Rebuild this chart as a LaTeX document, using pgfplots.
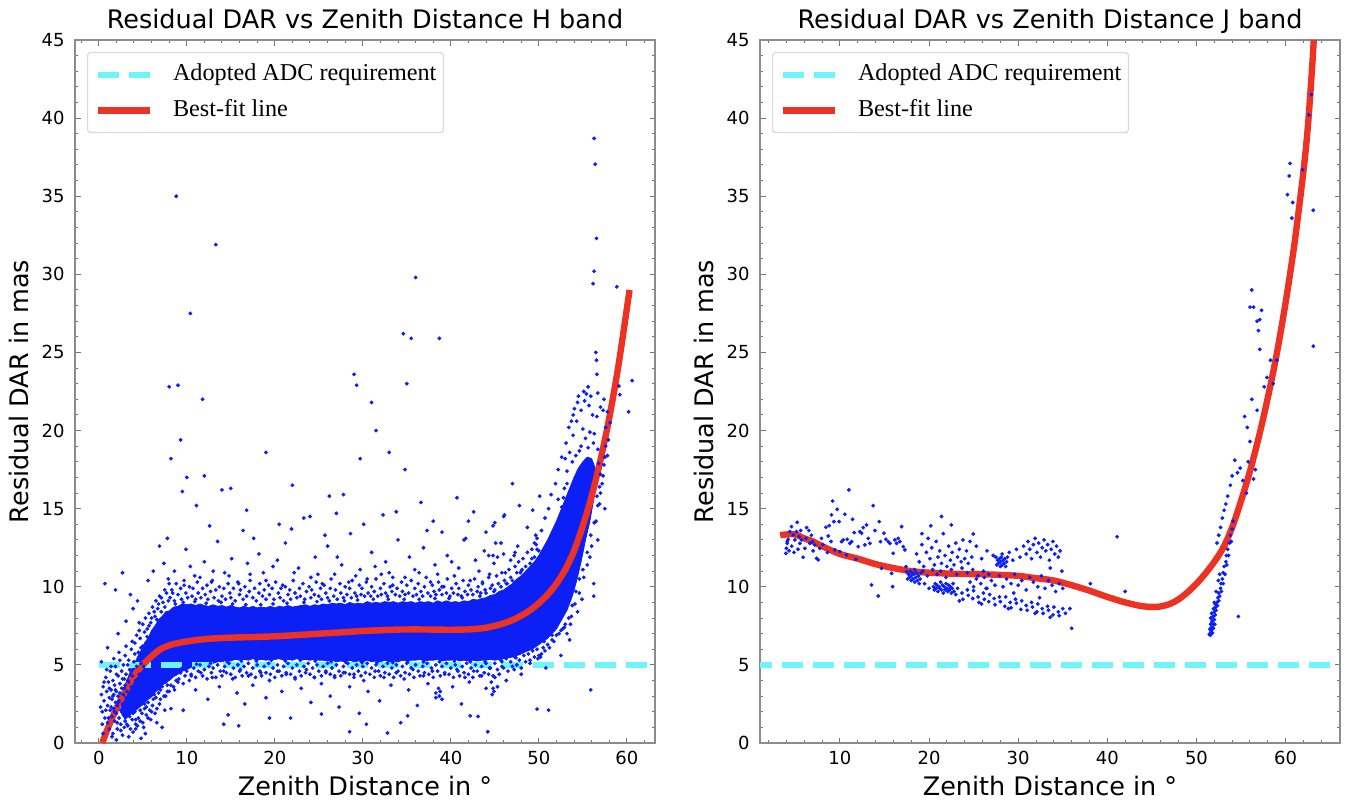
\documentclass[border=0pt]{standalone}
\usepackage{fontspec}
\setmainfont{DejaVu Sans}
\newfontfamily\legfont{Liberation Serif}
\usepackage{pgfplots}
\pgfplotsset{compat=1.18}
\definecolor{dotblue}{RGB}{12,32,246}
\definecolor{fitred}{RGB}{235,50,35}
\definecolor{adccyan}{RGB}{110,245,250}
\newcommand\lblfont{\fontsize{12.75}{15}\selectfont}
\pgfplotsset{
  panel/.style={
    scale only axis, width=290pt, height=351.5pt,
    ymin=0, ymax=45, ytick={0,5,...,45}, minor ytick={0,1,...,45},
    tick align=inside, tick pos=both, xticklabel pos=lower, yticklabel pos=left,
    major tick length=2.75pt, minor tick length=1.3pt,
    every tick/.style={black!55, line width=0.5pt},
    axis line style={black!45, line width=0.6pt},
    /pgf/number format/assume math mode=true,
    ticklabel style={font=\fontsize{9}{10}\selectfont},
    xticklabel style={anchor=base, yshift=-10.8pt, inner sep=0pt},
    yticklabel style={anchor=east, xshift=-5pt, inner sep=0pt},
    title style={at={(axis description cs:0.5,1)}, anchor=base, yshift=-0.15pt, font=\lblfont},
    xlabel style={at={(axis description cs:0.5,0)}, anchor=base, yshift=-26pt, font=\lblfont},
    ylabel style={at={(axis description cs:-0.0805,0.5)}, anchor=base, rotate=0, font=\lblfont},
    legend style={at={(axis description cs:0.0207,0.983)}, anchor=north west,
      draw=black!15, fill=white, rounded corners=1.5pt, line width=0.6pt,
      font=\legfont\fontsize{12.1}{14}\selectfont,
      nodes={inner sep=0pt, text height=9pt, text depth=3pt},
      inner xsep=3.5pt, inner ysep=5pt, row sep=6pt, column sep=10pt,
      cells={anchor=west}},
    legend image code/.code={\draw[#1] (0pt,0pt) -- (26pt,0pt);},
  },
  dots/.style={only marks, mark=*, mark size=0.75pt, color=dotblue,
    mark options={draw=none, fill=dotblue}, forget plot},
  adc/.style={adccyan, line width=3pt, dash pattern=on 10.5pt off 5pt},
  fit/.style={fitred, line width=3.2pt},
}
\begin{document}
\begin{tikzpicture}
\useasboundingbox (0,0) rectangle (679pt,404pt);
% ---------------- H band ----------------
\begin{axis}[panel, at={(37.5pt,32.5pt)}, anchor=south west,
  xmin=-2.7, xmax=63.2, xtick={0,10,...,60}, minor xtick={-2,0,...,62},
  title={Residual DAR vs Zenith Distance H band},
  xlabel={Zenith Distance in °}, ylabel={Residual DAR in mas}]
% dense core of the point cloud
\addplot[fill=dotblue, draw=dotblue, line width=0.4pt, forget plot] coordinates {
(2.5,2.0) (2.8,3.5) (3.2,4.0) (3.6,4.6) (4.0,5.0) (4.4,5.5) (4.8,5.9) (5.2,6.4) (5.6,6.7) (6.0,7.2)
(6.4,7.5) (6.8,7.9) (7.2,8.1) (7.6,8.4) (8.0,8.45) (8.5,8.7) (9.0,8.75) (9.5,8.9) (10.0,8.85) (10.5,8.9)
(11.0,8.8) (11.5,8.9) (12.0,8.8) (12.5,8.75) (13.0,8.85) (13.5,8.75) (14.0,8.8) (14.5,8.7) (15.0,8.8)
(15.5,8.7) (16.0,8.65) (16.5,8.75) (17.0,8.65) (17.5,8.75) (18.0,8.65) (18.5,8.7) (19.0,8.65) (19.5,8.75)
(20.0,8.65) (20.5,8.75) (21.0,8.7) (21.5,8.8) (22.0,8.7) (22.5,8.75) (23.0,8.8) (23.5,8.85) (24.0,8.75)
(24.5,8.85) (25.0,8.8) (25.5,8.9) (26.0,8.85) (26.5,8.95) (27.0,8.9) (27.5,8.95) (28.0,8.85) (28.5,9.0)
(29.0,8.9) (29.5,8.95) (30.0,8.9) (30.5,9.05) (31.0,8.95) (31.5,9.0) (32.0,8.95) (32.5,9.05) (33.0,9.0)
(33.5,9.05) (34.0,8.95) (34.5,9.05) (35.0,9.0) (35.5,9.05) (36.0,8.95) (36.5,9.05) (37.0,9.0) (37.5,9.05)
(38.0,8.95) (38.5,9.1) (39.0,9.0) (39.5,9.1) (40.0,9.0) (40.5,9.05) (41.0,9.0) (41.5,9.1) (42.0,9.05)
(42.5,9.2) (43.0,9.15) (43.5,9.25) (44.0,9.3) (44.5,9.45) (45.0,9.5) (45.5,9.7) (46.0,9.8) (46.5,10.0)
(47.0,10.2) (47.5,10.5) (48.0,10.7) (48.5,11.0) (49.0,11.3) (49.5,11.6) (50.0,12.0) (50.5,12.5)
(51.0,13.0) (51.5,13.6) (52.0,14.2) (52.5,14.9) (53.0,15.6) (53.5,16.3) (54.0,17.0) (54.5,17.6)
(55.0,18.0) (55.5,18.3) (56.0,18.2) (56.4,17.6) (56.5,16.8) (56.2,15.5) (55.8,14.2) (55.3,13.0)
(54.8,11.6) (54.3,10.4) (53.8,9.4) (53.2,8.5) (52.6,7.9) (52.0,7.3) (51.5,7.0) (51.0,6.7) (50.5,6.5)
(50.0,6.3) (49.5,6.1) (49.0,5.95) (48.5,5.85) (48.0,5.7) (47.5,5.6) (47.0,5.5) (46.5,5.45) (46.0,5.4)
(45.5,5.35) (45.0,5.3) (44.5,5.35) (44.0,5.3) (43.5,5.3) (43.0,5.25) (42.5,5.3) (42.0,5.25) (41.5,5.3)
(41.0,5.25) (40.5,5.35) (40.0,5.3) (39.5,5.3) (39.0,5.25) (38.5,5.35) (38.0,5.3) (37.5,5.3) (37.0,5.25)
(36.5,5.35) (36.0,5.3) (35.5,5.3) (35.0,5.25) (34.5,5.3) (34.0,5.2) (33.5,5.25) (33.0,5.2) (32.5,5.3)
(32.0,5.2) (31.5,5.25) (31.0,5.2) (30.5,5.3) (30.0,5.2) (29.5,5.25) (29.0,5.2) (28.5,5.3) (28.0,5.2)
(27.5,5.25) (27.0,5.2) (26.5,5.3) (26.0,5.25) (25.5,5.3) (25.0,5.3) (24.5,5.35) (24.0,5.3) (23.5,5.35)
(23.0,5.3) (22.5,5.4) (22.0,5.3) (21.5,5.35) (21.0,5.3) (20.5,5.4) (20.0,5.35) (19.5,5.35) (19.0,5.3)
(18.5,5.35) (18.0,5.3) (17.5,5.4) (17.0,5.3) (16.5,5.35) (16.0,5.3) (15.5,5.35) (15.0,5.25) (14.5,5.3)
(14.0,5.2) (13.5,5.2) (13.0,5.1) (12.5,5.1) (12.0,5.0) (11.5,5.0) (11.0,4.9) (10.5,4.85) (10.0,4.7)
(9.5,4.6) (9.0,4.4) (8.5,4.25) (8.0,4.0) (7.5,3.85) (7.0,3.5) (6.5,3.3) (6.0,2.95) (5.5,2.75)
(5.0,2.45) (4.5,2.25) (4.0,1.95) (3.5,1.8) (3.0,1.5)
} -- cycle;
% scattered points
\addplot[dots] coordinates {
(0.2,2.3) (0.3,3.1) (0.4,2.0) (0.5,3.6) (0.6,2.7) (0.7,1.6) (0.8,4.2) (0.9,3.3) (1.0,2.4) (1.0,1.3)
(1.1,3.9) (1.2,2.9) (1.2,0.9) (1.3,4.6) (1.3,2.1) (1.4,3.4) (1.5,1.7) (1.5,2.8) (1.6,4.0) (1.6,0.6)
(1.7,3.1) (1.7,2.2) (1.8,1.4) (1.8,3.7) (1.9,2.6) (1.9,4.9) (2.0,1.9) (2.0,3.3) (2.1,2.4) (2.1,0.9)
(2.2,4.3) (2.2,3.0) (2.3,1.6) (2.3,2.7) (2.4,3.8) (2.4,5.3) (2.5,2.1) (2.5,1.2) (2.6,3.5) (2.6,4.6)
(2.7,2.5) (2.7,0.5) (2.8,3.1) (2.8,1.8) (2.9,4.1) (2.9,2.3) (3.0,5.6) (3.0,3.7) (3.0,1.4) (3.1,2.9)
(3.1,4.4) (3.2,2.0) (3.2,3.3) (3.3,1.1) (3.3,5.0) (3.4,2.6) (3.4,3.9) (3.5,1.7) (3.5,4.7) (3.6,3.0)
(3.6,2.2) (3.7,6.0) (3.7,3.6) (3.8,1.5) (3.8,4.3) (3.9,2.7) (3.9,0.7) (4.0,5.2) (4.0,3.2) (4.1,2.0)
(4.1,6.4) (4.2,4.0) (4.2,1.2) (4.3,2.9) (4.3,4.9) (4.4,3.5) (4.4,2.4) (4.5,5.8) (4.5,1.6) (4.6,4.4)
(4.6,3.1) (4.7,6.7) (4.7,2.1) (4.8,5.1) (4.8,0.3) (4.9,3.8) (4.9,2.7) (5.0,6.2) (5.0,1.3) (5.1,4.9)
(5.2,7.1) (5.2,2.2) (5.3,5.7) (5.4,3.3) (5.4,1.8) (5.5,6.8) (5.6,2.6) (5.7,7.5) (5.8,3.0) (5.9,1.5)
(6.0,8.0) (6.1,2.4) (6.2,3.5) (6.3,8.4) (6.4,1.9) (6.5,2.9) (6.6,7.9) (6.7,3.9) (6.8,8.9) (6.9,2.5)
(7.0,3.4) (7.1,9.3) (7.2,1.0) (7.3,4.0) (7.5,9.8) (7.6,3.0) (7.8,3.7) (7.9,10.5) (8.1,4.3) (8.2,2.2)
(8.4,9.6) (8.5,3.6) (8.7,4.6)
(0.4,1.2) (0.6,3.9) (0.8,2.1) (0.9,4.7) (1.1,1.6) (1.2,3.5) (1.4,2.3) (1.4,4.9) (1.5,0.4) (1.6,3.0)
(1.7,5.4) (1.8,2.0) (1.9,3.4) (2.0,4.4) (2.1,1.3) (2.2,2.6) (2.3,5.8) (2.4,3.2) (2.5,0.8) (2.6,2.0)
(2.7,4.1) (2.8,5.0) (2.9,1.0) (2.9,3.5) (3.0,2.6) (3.1,6.2) (3.2,1.2) (3.3,4.0) (3.4,5.3) (3.5,2.4)
(3.6,0.9) (3.7,4.6) (3.8,6.5) (3.9,1.9) (4.0,2.2) (4.1,5.7) (4.2,1.5) (4.3,6.9) (4.4,1.1) (4.5,4.1)
(4.6,7.2) (4.7,1.4) (4.8,6.1) (4.9,1.9) (5.0,7.6) (5.1,1.0) (5.2,2.5) (5.3,8.0) (5.4,2.3) (5.5,7.3)
(5.6,1.6) (5.7,8.3) (5.8,2.1) (5.9,7.7) (6.0,2.0) (6.1,8.7) (6.2,2.8) (6.3,3.1) (6.4,8.1) (6.5,9.1)
(6.6,2.2) (6.7,8.6) (6.8,3.2) (6.9,9.4) (7.0,2.8) (7.1,8.4) (7.2,3.6) (7.3,9.0) (7.4,3.0) (7.5,8.7)
(7.6,3.9) (7.7,9.6) (7.8,3.3) (7.9,9.1) (8.0,4.1) (8.0,10.2) (8.2,3.7) (8.4,4.4) (8.6,3.4) (8.8,4.0)
(0.7,10.2) (2.7,10.9) (1.9,9.8) (3.6,9.5) (4.6,7.7) (1.0,6.1) (2.2,7.0) (3.1,7.8) (3.9,8.6) (4.4,9.1)
(5.6,10.4) (6.2,11.0) (6.9,12.6) (7.4,11.5) (7.8,13.1) (0.3,5.2) (0.5,0.6) (2.0,0.2) (3.4,0.4)
(4.2,0.9) (5.3,0.6) (6.6,1.3) (7.5,2.1)
(8.1,9.3) (8.3,9.8) (8.6,9.1) (8.8,10.2) (9.0,9.5) (9.3,9.9) (9.4,9.2) (9.7,10.4) (9.9,9.6) (10.1,9.3)
(10.3,10.0) (10.6,9.4) (10.7,9.9) (11.0,9.2) (11.2,10.3) (11.3,9.6) (11.6,9.3) (11.8,9.9) (12.1,9.5)
(12.3,10.1) (12.4,9.2) (12.7,9.7) (12.9,10.4) (13.1,9.3) (13.3,9.8) (13.6,9.1) (13.7,10.0) (14.0,9.4)
(14.2,9.9) (14.4,9.2) (14.7,10.2) (14.9,9.6) (15.0,9.3) (15.3,9.9) (15.5,9.1) (15.8,10.3) (16.0,9.5)
(16.1,9.8) (16.4,9.2) (16.6,10.0) (16.8,9.4) (17.1,9.7) (17.2,10.4) (17.5,9.3) (17.7,9.9) (17.9,9.1)
(18.2,9.6) (18.3,10.2) (18.6,9.4) (18.8,9.8) (19.0,9.2) (19.3,10.1) (19.4,9.5) (19.7,9.9) (19.9,9.2)
(20.1,10.3) (20.4,9.6) (20.6,9.3) (20.7,9.9) (21.0,9.1) (21.2,10.0) (21.5,9.5) (21.7,9.8) (21.8,9.2)
(22.1,10.4) (22.3,9.6) (22.5,9.3) (22.8,9.9) (22.9,9.4) (23.2,10.2) (23.4,9.2) (23.6,9.7) (23.9,10.0)
(24.1,9.3) (24.2,9.8) (24.5,9.5) (24.7,10.3) (25.0,9.4) (25.2,9.9) (25.3,9.2) (25.6,10.1) (25.8,9.6)
(26.0,9.3) (26.3,9.9) (26.4,10.5) (26.7,9.4) (26.9,9.8) (27.1,9.2) (27.4,10.2) (27.5,9.6) (27.8,9.3)
(28.0,10.0) (28.2,9.5) (28.5,9.9) (28.7,9.3) (28.8,10.4) (29.1,9.6) (29.3,9.4) (29.6,10.1) (29.8,9.5)
(29.9,9.9) (30.2,9.4) (30.4,10.3) (30.6,9.6) (30.9,9.4) (31.0,10.0) (31.3,9.7) (31.5,10.5) (31.7,9.4)
(32.0,9.9) (32.1,9.5) (32.4,10.2) (32.6,9.6) (32.8,9.4) (33.1,10.0) (33.3,9.7) (33.4,10.6) (33.7,9.5)
(33.9,9.9) (34.2,9.4) (34.4,10.3) (34.5,9.7) (34.8,9.5) (35.0,10.1) (35.2,9.6) (35.5,10.4) (35.7,9.4)
(35.9,9.9) (36.1,9.5) (36.3,10.2) (36.6,9.7) (36.8,9.4) (37.0,10.0) (37.2,10.6) (37.4,9.6) (37.7,9.4)
(37.9,10.1) (38.1,9.7) (38.3,9.5) (38.6,10.3) (38.7,9.8) (39.0,9.5) (39.2,10.0) (39.5,9.6) (39.6,10.5)
(39.9,9.4) (40.1,9.9) (40.3,9.6) (40.6,10.2) (40.8,9.5) (40.9,9.9) (41.2,9.4) (41.4,10.4) (41.6,9.7)
(41.9,9.5) (42.0,10.1) (42.3,9.8) (42.5,9.5) (42.7,10.5) (43.0,9.7) (43.1,10.0) (43.4,9.6) (43.6,10.3)
(43.9,9.8) (44.0,9.6) (44.3,10.6) (44.5,9.9) (44.7,10.1) (45.0,9.8) (45.2,10.7) (45.4,10.2) (45.7,10.0)
(45.8,10.9) (46.1,10.4) (46.3,10.2) (46.6,11.1) (46.8,10.6) (47.0,10.4) (47.3,11.3) (47.5,10.9)
(47.7,11.6) (48.0,11.0) (48.2,11.8) (48.5,11.3) (48.7,12.2) (49.0,11.5) (49.2,12.4) (49.5,11.9)
(49.7,12.7) (50.0,12.3)
(8.7,8.9) (9.6,9.0) (10.9,9.05) (12.2,8.95) (13.9,9.0) (15.2,8.9) (16.7,8.85) (18.4,8.85) (19.8,8.9)
(21.4,8.95) (23.3,9.0) (24.8,9.05) (26.2,9.1) (27.9,9.1) (29.4,9.15) (31.2,9.2) (32.9,9.2) (34.7,9.2)
(36.4,9.2) (38.2,9.25) (39.8,9.25) (41.3,9.3) (43.3,9.4) (44.9,9.7) (46.4,10.2) (47.9,10.9)
(9.7,10.1) (9.9,12.4) (10.9,10.7) (12.0,11.6) (12.8,10.3) (13.5,12.9) (14.3,10.9) (15.1,11.8)
(15.9,10.2) (16.4,13.6) (17.2,10.8) (18.2,12.1) (19.0,10.4) (19.8,11.3) (20.9,10.1) (21.2,12.8)
(22.2,10.9) (23.3,14.4) (24.1,10.6) (24.6,11.9) (25.4,10.2) (26.0,12.6) (26.8,10.8) (27.6,11.4)
(28.4,10.3) (28.6,13.4) (29.7,11.1) (30.5,10.5) (31.0,12.2) (32.1,10.8) (32.6,11.6) (33.4,10.1)
(34.0,13.0) (34.8,10.6) (35.3,11.9) (36.4,10.9) (36.9,12.5) (37.7,10.3) (38.2,11.4) (39.0,10.0)
(39.6,12.0) (40.4,10.7) (40.9,11.2) (41.7,13.1) (42.2,10.4) (42.8,11.7) (43.6,10.2) (43.8,12.3)
(44.4,10.8) (44.9,11.5) (45.7,12.8) (46.2,10.9) (46.8,11.7) (47.6,12.6) (48.1,11.1) (48.7,13.8)
(49.2,11.8) (49.8,12.4) (8.6,11.0) (10.4,11.3) (11.5,10.6) (13.0,11.0) (14.8,10.7) (16.9,11.5)
(18.7,10.9) (20.3,11.7) (22.7,11.2) (24.9,10.8) (27.1,11.9) (29.2,10.7) (31.4,11.3) (33.0,10.9)
(35.9,11.1) (38.5,10.8) (40.1,11.6) (43.2,11.0) (45.3,11.9) (47.2,12.0) (12.6,13.9) (17.6,13.1)
(21.9,13.7) (25.7,13.3) (30.1,14.0) (33.8,14.8) (37.3,13.6) (42.0,14.2) (27.8,15.9) (40.7,15.7)
(47.0,16.6) (49.3,14.9)
(9.1,4.1) (9.3,4.5) (9.6,3.8) (9.8,4.3) (10.0,4.6) (10.3,4.0) (10.5,4.4) (10.8,4.8) (11.0,4.2) (11.3,4.6)
(11.5,5.0) (11.8,4.3) (12.0,4.7) (12.3,4.1) (12.5,4.9) (12.8,4.5) (13.0,4.8) (13.3,4.2) (13.5,5.0)
(13.8,4.6) (14.0,4.3) (14.3,4.9) (14.5,4.5) (14.8,5.1) (15.0,4.4) (15.3,4.8) (15.5,4.2) (15.8,5.0)
(16.0,4.6) (16.3,4.3) (16.5,4.9) (16.8,4.5) (17.0,5.1) (17.3,4.4) (17.5,4.8) (17.8,4.2) (18.0,5.0)
(18.3,4.6) (18.5,4.3) (18.8,4.9) (19.0,4.5) (19.3,5.1) (19.5,4.4) (19.8,4.8) (20.0,4.2) (20.3,5.0)
(20.5,4.6) (20.8,4.3) (21.0,4.9) (21.3,4.5) (21.5,5.1) (21.8,4.4) (22.0,4.8) (22.3,4.2) (22.5,5.0)
(22.8,4.6) (23.0,4.3) (23.3,4.9) (23.5,4.5) (23.8,5.1) (24.0,4.4) (24.3,4.8) (24.5,4.2) (24.8,5.0)
(25.0,4.6) (25.3,4.3) (25.5,4.9) (25.8,4.5) (26.0,5.1) (26.3,4.4) (26.5,4.8) (26.8,4.2) (27.0,5.0)
(27.3,4.6) (27.5,4.3) (27.8,4.9) (28.0,4.5) (28.3,5.1) (28.5,4.4) (28.8,4.8) (29.0,4.2) (29.3,5.0)
(29.5,4.6) (29.8,4.3) (30.0,4.9) (30.3,4.5) (30.5,5.1) (30.8,4.4) (31.0,4.8) (31.3,4.2) (31.5,5.0)
(31.8,4.6) (32.0,4.3) (32.3,4.9) (32.5,4.5) (32.8,5.1) (33.0,4.4) (33.3,4.8) (33.5,4.2) (33.8,5.0)
(34.0,4.6) (34.3,4.3) (34.5,4.9) (34.8,4.5) (35.0,5.1) (35.3,4.4) (35.5,4.8) (35.8,4.2) (36.0,5.0)
(36.3,4.6) (36.5,4.3) (36.8,4.9) (37.0,4.5) (37.3,5.1) (37.5,4.4) (37.8,4.8) (38.0,4.2) (38.3,5.0)
(38.5,4.6) (38.8,4.3) (39.0,4.9) (39.3,4.5) (39.5,5.1) (39.8,4.4) (40.0,4.8) (40.3,4.2) (40.5,5.0)
(40.8,4.6) (41.0,4.3) (41.3,4.9) (41.5,4.5) (41.8,5.1) (42.0,4.4) (42.3,4.8) (42.5,4.2) (42.8,5.0)
(43.0,4.6) (43.3,4.3) (43.5,4.9) (43.8,4.5) (44.0,5.1) (44.3,4.4) (44.5,4.8) (44.8,4.3) (45.0,5.1)
(45.3,4.7) (45.5,4.4) (45.8,5.2) (46.0,4.8) (46.3,5.4) (46.5,4.6) (46.8,5.2) (47.0,4.9) (47.3,5.5)
(47.5,5.0) (47.8,5.3) (48.0,4.8) (48.3,5.6) (48.5,5.2) (48.8,5.7) (49.0,5.3) (49.3,5.9) (49.5,5.5)
(49.8,6.0) (50.0,5.6) (50.5,6.1) (51.0,6.3) (51.5,6.6) (52.0,6.9) (52.5,7.2) (53.0,7.6)
(9.4,4.75) (11.1,5.05) (12.7,5.1) (14.6,5.2) (16.2,5.25) (17.9,5.25) (19.6,5.3) (21.2,5.25) (22.9,5.3)
(24.6,5.25) (26.4,5.2) (28.1,5.15) (29.9,5.15) (31.6,5.15) (33.4,5.15) (35.1,5.2) (36.9,5.2) (38.7,5.2)
(40.4,5.25) (42.2,5.2) (43.9,5.2) (45.7,5.3) (47.4,5.45)
(8.0,3.3) (9.0,3.9) (9.6,2.1) (10.5,4.3) (11.0,3.4) (11.6,4.5) (12.4,2.8) (12.9,4.2) (13.7,3.6)
(14.2,4.6) (14.7,1.8) (15.2,4.1) (15.7,3.2) (16.1,4.7) (16.6,2.5) (17.0,4.3) (17.5,3.7) (18.4,4.5)
(19.0,2.9) (19.4,4.0) (20.3,4.6) (20.8,3.3) (21.3,4.4) (21.8,1.6) (22.3,4.1) (23.0,3.5) (23.6,4.7)
(24.1,2.6) (24.5,4.2) (25.3,3.8) (25.8,4.6) (26.3,3.0) (26.8,4.3) (27.3,2.3) (27.8,4.5) (28.5,3.6)
(29.0,4.4) (29.6,1.9) (30.1,4.0) (30.6,3.3) (31.4,4.6) (31.9,2.7) (32.4,4.2) (33.2,3.7) (33.8,4.5)
(34.3,1.3) (34.7,4.1) (35.2,3.4) (35.7,4.7) (36.2,2.4) (36.9,4.3) (37.4,3.8) (37.9,4.6) (38.3,3.2)
(38.7,3.0) (39.0,2.8) (39.3,4.4) (40.2,3.6) (40.7,4.7) (41.2,2.5) (41.6,4.2) (42.1,3.9) (42.6,4.6)
(43.1,1.7) (43.5,4.3) (44.0,3.5) (44.4,4.8) (44.9,3.3) (45.0,4.2) (45.3,3.6) (45.8,4.9) (46.3,4.0)
(47.2,4.7) (48.0,4.4) (49.0,5.1) (50.2,5.5) (50.8,4.8)
(14.2,1.2) (15.9,1.1) (19.4,1.6) (25.3,1.85) (28.5,0.72) (30.4,1.2) (32.8,0.64) (35.1,1.74) (42.2,1.74)
(44.2,0.72) (49.8,2.17) (51.1,2.1) (38.8,3.3) (38.3,2.9) (38.6,3.5) (44.7,3.1) (44.8,3.5) (44.6,3.9)
(10.4,27.5) (8.8,35.0) (13.3,31.9) (8.0,22.8) (9.0,22.9) (11.8,22.0) (9.3,19.4) (8.2,18.2) (10.0,17.0)
(12.0,17.1) (14.0,16.2) (15.0,16.3) (19.0,18.6) (22.0,16.5) (29.0,23.6) (29.3,22.9) (31.0,21.8)
(34.6,26.2) (35.5,25.9) (36.0,29.8) (38.7,25.9) (35.0,23.0) (29.7,18.2) (33.0,18.6) (34.8,17.5)
(31.5,20.0) (24.0,14.5) (27.0,14.7) (38.0,14.2) (39.0,13.5) (41.5,13.0) (45.0,14.1) (46.0,14.5)
(47.8,15.2) (44.0,13.5) (9.5,16.1) (11.1,15.2) (16.8,14.9) (20.5,14.0) (26.2,15.8) (32.3,14.6)
(36.6,15.4) (42.6,14.8)
(56.28,38.7) (56.4,37.05) (56.55,32.3) (56.28,30.2) (56.16,29.4) (58.86,29.2) (56.47,25.0)
(56.55,24.5) (56.6,23.6) (55.6,22.8) (55.4,22.35) (54.04,21.4) (53.7,20.6) (60.6,23.2) (60.2,21.2)
(59.2,22.3) (59.1,22.85) (50.1,15.8) (46.1,14.6) (44.8,13.9) (45.1,12.8) (46.0,12.1) (47.3,12.2)
(44.3,12.0) (44.8,12.0) (49.65,13.3) (49.5,12.8) (56.24,10.2) (56.24,9.4) (53.1,9.3) (53.2,7.0)
(53.5,6.6) (52.5,5.6) (55.9,3.4)
(52.0,13.0) (52.3,14.2) (52.6,15.1) (52.9,16.3) (53.2,17.4) (53.5,18.6) (53.9,19.7) (54.3,20.6)
(54.8,21.3) (55.2,21.9) (55.7,21.6) (56.1,21.0) (56.6,20.9) (57.0,21.5) (57.4,22.0) (57.8,21.2)
(58.1,20.5) (57.6,19.0) (57.4,17.8) (57.2,16.6) (56.9,15.3) (56.5,14.2) (56.0,12.6) (55.5,11.4)
(55.1,10.6) (54.6,9.6) (54.1,8.9) (53.7,8.1) (52.7,7.3) (51.5,6.9) (50.6,6.5) (51.3,12.1) (50.8,11.5)
(50.3,10.9) (51.7,13.6) (52.2,15.6) (53.0,18.2) (54.5,22.2) (55.0,20.1) (56.3,19.8) (57.8,18.4)
(57.5,15.0) (56.7,13.0) (55.8,11.9) (54.9,9.2) (54.4,8.4) (53.6,7.6) (51.9,12.5) (50.9,10.0)
(49.8,13.1) (50.3,13.6) (50.7,14.4) (51.1,15.0) (51.4,15.9) (51.9,16.6) (52.2,17.5) (52.6,18.3)
(53.1,19.2) (53.4,20.2) (53.9,21.0) (54.4,21.8) (55.1,22.5) (55.9,22.2) (56.7,22.4) (57.3,21.3)
(57.6,20.2) (57.9,19.4) (57.5,18.3) (57.3,17.1) (57.0,16.0) (56.7,15.2) (56.3,14.1) (55.9,13.3)
(55.5,12.2) (55.0,11.1) (54.6,10.5) (54.2,9.7) (53.8,8.8) (53.4,8.0) (52.9,7.4) (52.3,7.0) (51.7,6.5)
(51.2,6.1) (50.7,5.9) (50.3,5.7) (49.9,5.4)
(54.2,18.4) (54.8,19.0) (55.3,19.5) (55.8,19.9) (56.2,19.2) (56.7,18.8) (55.6,18.9) (54.6,18.7)
(53.8,18.0) (53.2,16.6) (52.8,15.7) (56.8,17.9) (57.0,17.2) (56.9,16.4) (56.6,15.8)
};
\addplot[adc] coordinates {(0,5) (70,5)};
\addlegendentry{Adopted ADC requirement}
\addplot[fit, smooth] coordinates {
(0.4,0) (1,0.9) (2,2.2) (3,3.3) (4,4.3) (5,5.0) (6,5.55) (7,6.0) (8,6.25) (9,6.4) (10,6.5) (12,6.65)
(14,6.72) (16,6.76) (18,6.79) (20,6.83) (22,6.89) (24,6.96) (26,7.03) (28,7.1) (30,7.17) (32,7.22)
(34,7.26) (36,7.27) (38,7.26) (40,7.25) (42,7.27) (43,7.31) (44,7.38) (45,7.5) (46,7.66) (47,7.87)
(48,8.15) (49,8.5) (50,8.95) (51,9.5) (52,10.2) (53,11.1) (54,12.3) (55,13.9) (56,15.8) (57,18.1)
(58,20.8) (59,24.0) (60,27.8) (60.3,29.0)};
\addlegendentry{Best-fit line}
\end{axis}
% ---------------- J band ----------------
\begin{axis}[panel, at={(380pt,32.5pt)}, anchor=south west,
  xmin=1.04, xmax=66.1, xtick={10,20,...,60}, minor xtick={2,4,...,66},
  title={Residual DAR vs Zenith Distance J band},
  xlabel={Zenith Distance in °}, ylabel={Residual DAR in mas}]
\addplot[dots] coordinates {
(3.94,12.14) (4.0,12.46) (4.09,12.78) (4.2,13.04) (4.39,13.53) (4.57,13.85) (4.76,13.32) (4.95,13.0)
(5.13,13.53) (5.21,14.13) (5.43,13.21) (5.51,12.78) (5.7,13.0) (5.88,11.89) (6.07,12.46) (6.26,13.79)
(6.52,13.6) (6.63,12.78) (6.93,12.89) (7.19,12.68) (7.38,11.82) (7.57,11.72) (7.75,12.46) (7.94,13.1)
(8.43,13.81) (8.69,13.25) (8.8,13.91) (9.06,14.6) (9.18,15.49) (9.32,14.17) (9.44,12.36) (9.7,14.96)
(9.92,14.17) (10.0,12.25) (10.19,12.89) (10.37,13.0) (10.56,14.64) (10.75,12.04) (10.82,13.04)
(11.01,16.2) (11.12,12.78) (11.31,12.89) (11.42,14.32) (11.61,13.47) (11.79,11.76) (12.06,12.57)
(12.24,13.53) (12.43,13.43) (12.62,13.79) (12.8,12.68) (12.99,13.96) (13.18,13.1) (13.37,12.78)
(13.55,10.12) (13.74,15.19) (13.93,13.6) (14.3,9.41) (14.41,14.17) (14.56,12.89) (14.67,11.18)
(14.94,13.43) (15.16,13.04) (15.42,12.89) (15.61,12.78) (15.8,10.86) (15.91,10.01) (15.98,12.14)
(16.17,13.0) (16.36,12.78) (16.55,13.1) (16.73,12.89) (16.92,13.85) (17.11,12.57) (17.29,12.36)
(17.41,11.29) (17.48,10.97) (4.1,12.9) (4.3,12.3) (4.6,12.6) (4.85,12.2) (5.3,12.4) (5.6,13.6)
(6.2,13.1) (6.8,13.3) (7.0,12.3) (8.1,12.7) (8.6,12.2) (9.0,12.9)
(17.6,10.5) (17.7,10.8) (17.8,10.6) (17.9,11.0) (18.0,10.4) (18.0,10.7) (18.1,10.9) (18.2,10.5)
(18.3,10.8) (18.4,10.3) (18.4,11.1) (18.5,10.6) (18.6,10.9) (18.7,10.4) (18.8,10.7) (18.9,10.2)
(19.0,10.5) (19.1,10.9)
(18.6,12.1) (18.9,11.6) (19.2,12.7) (19.4,11.3) (19.7,12.2) (19.9,13.1) (20.1,11.8) (20.3,12.5)
(20.6,11.4) (20.8,12.9) (21.0,11.9) (21.2,12.3) (21.4,11.5) (21.6,13.4) (21.8,12.0) (22.0,11.3)
(22.2,12.6) (22.4,11.7) (22.6,12.2) (22.8,11.4) (23.0,12.8) (23.2,11.9) (23.4,12.4) (23.6,11.6)
(23.8,13.0) (24.0,11.8) (24.2,12.3) (24.4,11.5) (24.6,12.9) (24.8,11.9)
(19.3,11.0) (19.8,10.7) (20.4,11.1) (20.9,10.8) (21.3,11.0) (21.9,10.6) (22.5,11.1) (23.1,10.8)
(23.7,11.2) (24.3,10.9) (24.9,11.1) (25.5,10.7) (26.1,11.0) (26.7,10.8)
(20.5,10.0) (20.6,9.8) (20.7,10.2) (20.8,9.9) (20.9,10.1) (21.0,9.7) (21.1,10.0) (21.2,9.9) (21.3,10.3)
(21.4,9.8) (21.5,10.1) (21.6,9.6) (21.7,10.0) (21.8,9.8) (21.9,10.2) (22.0,9.9) (22.1,9.7) (22.2,10.1)
(22.3,9.8) (22.4,10.0) (22.5,9.6) (22.6,9.9) (22.7,10.2) (22.8,9.7)
(19.5,10.2) (20.0,9.9) (23.0,9.5) (23.2,9.9) (23.7,9.6) (23.8,9.2) (24.3,9.8) (24.4,9.45) (24.9,9.25)
(25.0,9.75) (25.5,9.35) (25.6,9.0) (26.1,9.6) (26.2,9.2) (26.7,9.05) (26.8,9.5) (27.3,9.25) (27.4,8.85)
(27.9,9.35) (28.0,9.05) (28.5,8.75) (28.6,9.35) (29.1,9.0) (29.2,8.65) (29.7,9.2) (29.8,8.95) (30.3,8.55)
(30.4,9.1) (30.9,8.8) (31.0,8.5) (31.5,9.0) (31.6,8.7) (32.1,8.4) (32.2,8.9) (32.7,8.6) (32.8,8.3)
(33.3,8.75) (33.4,8.5) (33.9,8.2) (34.0,8.7) (34.5,8.4) (34.6,8.15) (35.0,8.6) (35.3,8.3)
(23.4,9.1) (25.9,8.9) (28.9,8.6) (31.9,8.3) (33.6,8.05) (26.4,9.9) (29.5,9.6) (32.4,9.3)
(24.6,10.3) (25.0,10.0) (25.3,10.5) (25.8,10.2) (26.2,10.6) (26.5,9.9) (27.0,10.4) (27.4,10.1)
(27.9,10.7) (28.3,10.0) (28.7,10.5) (29.2,10.2) (29.6,10.8) (30.0,10.1) (30.4,10.4) (30.9,9.8)
(31.3,10.6) (31.7,10.3) (32.2,10.0) (32.6,10.7) (33.0,9.9) (33.4,10.4) (33.8,10.1) (34.2,9.7)
(34.6,10.2) (35.0,9.9)
(27.6,11.4) (27.7,11.7) (27.8,11.5) (27.9,11.8) (28.0,11.3) (28.0,11.6) (28.1,11.9) (28.2,11.4)
(28.3,11.7) (28.4,11.5) (28.5,11.8) (28.6,11.3) (28.7,11.6) (28.8,11.9) (27.5,11.9) (28.2,12.1)
(30.6,12.6) (30.9,12.1) (31.1,12.9) (31.3,12.4) (31.5,11.8) (31.7,12.7) (31.9,13.1) (32.1,12.2)
(32.3,12.8) (32.5,11.9) (32.7,12.5) (32.9,13.0) (33.1,12.3) (33.3,12.7) (33.5,11.7) (33.7,12.4)
(33.9,12.9) (34.1,12.1) (34.3,12.6) (34.5,11.9) (34.7,12.3) (30.2,11.9) (29.8,12.4) (29.4,11.7)
(29.0,12.2) (26.5,12.3) (25.9,11.8) (25.3,12.6) (27.2,12.0) (24.96,13.38) (21.4,14.5) (22.5,13.96)
(20.2,13.9) (19.2,13.4) (34.9,11.0) (33.6,11.2)
(36.0,7.34) (38.1,10.2) (41.1,13.2) (42.0,9.7) (35.8,8.6)
(51.5,7.0) (51.6,7.2) (51.55,6.9) (51.7,7.4) (51.6,7.6) (51.8,7.3) (51.75,7.8) (51.9,7.6) (51.85,8.1)
(52.0,7.9) (52.0,8.4) (52.1,8.2) (52.15,8.7) (52.2,8.5) (52.3,9.0) (52.35,8.8) (52.4,9.3) (52.5,9.1)
(52.5,9.6) (52.6,9.4) (52.7,9.9) (52.75,10.2) (52.8,9.7) (52.9,10.5) (53.0,10.2) (53.0,10.9)
(53.1,11.3) (53.2,10.8) (53.3,11.6) (53.35,12.0) (53.4,11.4) (53.5,12.4) (53.6,12.0) (53.7,12.8)
(53.8,13.3) (53.9,12.9) (54.0,13.7) (54.1,14.2) (52.3,12.8) (52.5,13.3) (52.7,13.8) (52.9,14.4)
(53.1,14.9) (53.3,15.3) (53.5,15.8) (53.8,16.5) (54.0,17.1) (54.3,18.1) (54.6,17.3) (54.9,17.6)
(55.2,16.8) (55.6,16.0) (55.8,18.0) (56.0,19.3) (56.4,16.9) (56.6,17.5) (55.4,20.9) (55.7,20.2)
(56.2,22.0) (56.8,21.3) (57.6,22.8) (57.9,23.4) (58.3,24.5) (58.6,23.0) (57.1,25.2) (56.95,26.4)
(56.8,27.0) (56.4,27.9) (56.2,29.0) (56.0,27.9) (57.3,27.7) (57.1,27.1) (59.0,24.5) (63.1,25.4)
(60.2,35.1) (60.4,36.3) (60.5,37.1) (60.8,34.6) (60.7,33.6) (61.9,36.7) (62.6,40.2) (62.9,41.5)
(63.1,34.1) (54.7,8.1)
(51.45,6.95) (51.5,7.3) (51.65,7.0) (51.7,7.65) (51.8,7.05) (51.9,7.35) (51.95,7.9) (52.05,7.6)
(51.6,8.0) (51.7,8.3) (52.1,8.9) (52.2,9.7) (52.45,10.4) (52.6,10.8) (52.0,9.0) (51.9,8.6)
};
\addplot[adc] coordinates {(0,5) (70,5)};
\addlegendentry{Adopted ADC requirement}
\addplot[fit, smooth] coordinates {
(3.3,13.3) (4,13.35) (5,13.35) (6,13.1) (7,12.9) (8,12.6) (10,12.1) (12,11.8) (14,11.45) (16,11.2)
(18,11.0) (20,10.9) (22,10.85) (24,10.82) (26,10.8) (28,10.76) (30,10.7) (32,10.55) (34,10.4)
(36,10.1) (38,9.75) (40,9.35) (42,9.0) (44,8.75) (45.7,8.72) (47,8.9) (48,9.2) (49,9.65) (50,10.2)
(51,10.85) (52,11.6) (53,12.5) (54,13.8) (55,15.5) (56,17.4) (57,19.6) (58,22.1) (59,24.9) (60,28.2)
(61,32.0) (62,36.6) (62.5,39.5) (63,43.5) (63.3,46.5)};
\addlegendentry{Best-fit line}
\end{axis}
\end{tikzpicture}
\end{document}
